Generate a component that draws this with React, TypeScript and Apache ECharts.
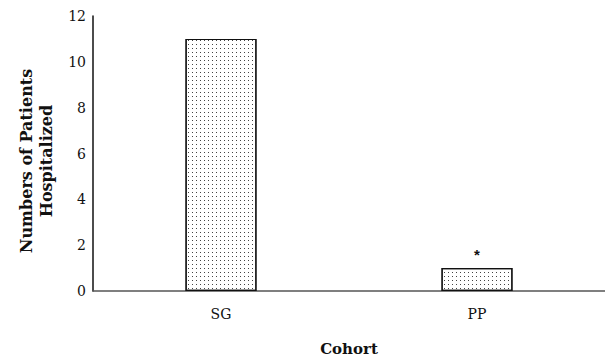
import React, { useEffect, useRef } from "react";
import * as echarts from "echarts";

const categories = ["SG", "PP"];
const values = [11, 1];
const markers = ["", "*"];
const yTitle = "Numbers of Patients\nHospitalized";
const xTitle = "Cohort";

export default function App() {
  const ref = useRef<HTMLDivElement>(null);
  useEffect(() => {
    document.body.style.margin = "0";
    const chart = echarts.init(ref.current!, null, { renderer: "svg" });
    const font = "DejaVu Serif";
    chart.setOption({
      animation: false,
      backgroundColor: "#fff",
      grid: { left: 93, right: 0, top: 16, bottom: 68, outerBoundsMode: "none", containLabel: false },
      graphic: [
        {
          type: "text",
          x: 36,
          y: 161,
          rotation: Math.PI / 2,
          style: {
            text: yTitle,
            font: `bold 16px "${font}"`,
            fill: "#111",
            align: "center",
            verticalAlign: "middle",
            lineHeight: 20,
          },
        },
      ],
      xAxis: {
        type: "category",
        data: categories,
        name: xTitle,
        nameLocation: "middle",
        nameGap: 50,
        nameTextStyle: { fontFamily: font, fontWeight: "bold", fontSize: 15, color: "#111" },
        axisLine: { lineStyle: { color: "#555", width: 1.5 } },
        axisTick: { show: false },
        axisLabel: { fontFamily: font, fontSize: 14, color: "#111", margin: 16 },
      },
      yAxis: {
        type: "value",
        min: 0,
        max: 12,
        interval: 2,
        axisLine: { show: true, lineStyle: { color: "#111", width: 1.5 } },
        axisTick: { show: false },
        splitLine: { show: false },
        axisLabel: { fontFamily: font, fontSize: 14, color: "#111", margin: 7 },
      },
      series: [
        {
          type: "bar",
          barWidth: 71,
          data: values.map((v, i) => ({
            value: v,
            label: {
              show: markers[i] !== "",
              position: "top",
              formatter: markers[i],
              fontSize: 15,
              fontWeight: "bold",
              color: "#111",
              distance: 6,
            },
          })),
          itemStyle: {
            color: "#fff",
            borderColor: "#111",
            borderWidth: 1.2,
            decal: {
              symbol: "rect",
              symbolSize: 1,
              dashArrayX: [1, 3],
              dashArrayY: [1, 3],
              color: "#444",
              rotation: 0,
            },
          },
        },
      ],
    });
    return () => chart.dispose();
  }, []);
  return <div ref={ref} style={{ width: 605, height: 359 }} />;
}
